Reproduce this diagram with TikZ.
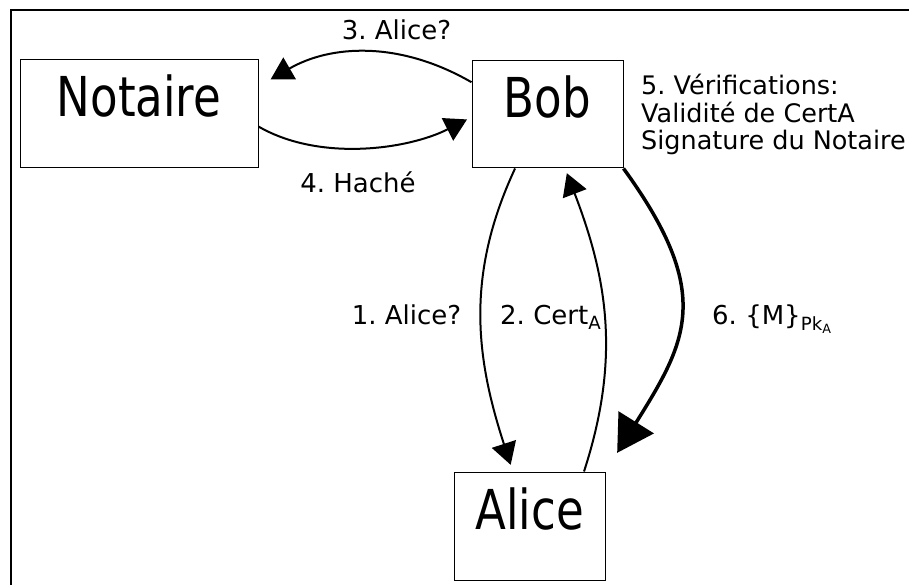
\documentclass[tikz,border=0pt]{standalone}
\usepackage{fontspec}
\setmainfont{DejaVu Sans}
\newfontfamily\boxfont[FakeStretch=0.82]{DejaVu Sans}
\frenchspacing
\usetikzlibrary{arrows.meta}
\tikzset{>={Triangle[length=22pt,width=25pt]}}
\tikzset{
  box/.style={draw, line width=1pt, inner sep=0pt, minimum width=151pt, minimum height=107pt,
    text height=37pt, text depth=31pt, font=\boxfont\fontsize{55}{60}\selectfont},
  lbl/.style={font=\fontsize{26}{27.5}\selectfont, inner sep=0pt},
  msg/.style={->, line width=2pt},
}

\begin{document}
\begin{tikzpicture}[x=1pt,y=1pt]
      \useasboundingbox (0,0) rectangle (909,584);
      \clip (0,0) rectangle (909,584);
      \draw[line width=1.2pt] (11,-10) rectangle (930,574);
      \node[box, minimum width=238pt, minimum height=108pt] (notaire) at (139,470) {Notaire};
      \node[box] (bob) at (547.5,469.5) {Bob};
      \node[box, minimum height=108pt] (alice) at (529.5,58) {Alice};
      \draw[msg, shorten >=14pt] (bob.157) to[out=150,in=30] (notaire.13);
      \draw[msg, shorten >=5pt] (notaire.-6) to[out=-30,in=-153,looseness=0.85] (bob.182);
      \draw[msg, shorten >=7pt] (bob.-121) to[out=-115,in=108] (alice.107);
      \draw[msg, shorten >=5pt] (alice.45) to[out=72,in=-69] (bob.-72);
      \draw[msg, line width=3.5pt, -{Triangle[length=36pt,width=41pt]}, shorten >=22pt]
        (bob.south east) to[out=-54,in=58,looseness=1.3] (alice.north east);
      \node[lbl, anchor=base] (l3) at (396.5,544) {3. Alice?};
      \node[lbl, anchor=base] (l4) at (358,391) {4. Haché};
      \node[lbl, anchor=base west, align=left, font=\fontsize{25.5}{27.5}\selectfont] (l5) at (641,434)
        {5. Vérifications:\\Validité de CertA\\Signature du Notaire};
      \node[lbl, anchor=base] (l1) at (406.5,259) {1. Alice?};
      \node[lbl, anchor=base west] (l2) at (500,259) {2. Cert\textsubscript{A}};
      \node[lbl, anchor=base west] (l6) at (712,259) {6. \{M\}\textsubscript{Pk\textsubscript{A}}};
\end{tikzpicture}
\end{document}
